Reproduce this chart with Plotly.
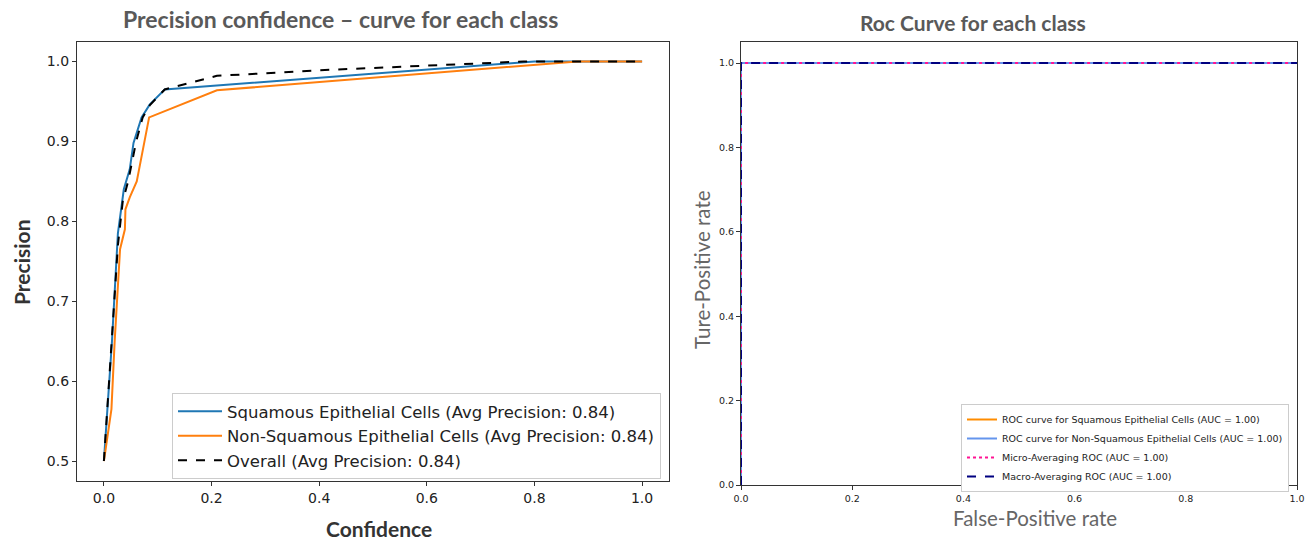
import plotly.graph_objects as go

# ---- Precision-confidence data (left) ----
conf_squamous = [0.0, 0.007, 0.015, 0.026, 0.037, 0.048, 0.055, 0.07, 0.085, 0.113, 0.21, 0.8, 1.0]
prec_squamous = [0.5, 0.57, 0.65, 0.785, 0.84, 0.865, 0.898, 0.93, 0.946, 0.965, 0.97, 1.0, 1.0]

conf_non = [0.0, 0.014, 0.02, 0.03, 0.039, 0.04, 0.048, 0.061, 0.084, 0.21, 0.88, 1.0]
prec_non = [0.5, 0.565, 0.65, 0.765, 0.79, 0.815, 0.83, 0.85, 0.93, 0.964, 1.0, 1.0]

conf_overall = [0.0, 0.007, 0.015, 0.026, 0.035, 0.045, 0.06, 0.072, 0.085, 0.113, 0.21, 0.4, 0.78, 1.0]
prec_overall = [0.5, 0.57, 0.65, 0.77, 0.825, 0.85, 0.9, 0.93, 0.945, 0.965, 0.982, 0.989, 1.0, 1.0]

pr_names = [
    "Squamous Epithelial Cells (Avg Precision: 0.84)",
    "Non-Squamous Epithelial Cells (Avg Precision: 0.84)",
    "Overall (Avg Precision: 0.84)",
]

# ---- ROC data (right) ----
fpr_squamous = [0.0, 0.0, 1.0]
tpr_squamous = [0.0, 1.0, 1.0]
fpr_non = [0.0, 0.0, 1.0]
tpr_non = [0.0, 1.0, 1.0]
fpr_micro = [0.0, 0.0, 1.0]
tpr_micro = [0.0, 1.0, 1.0]
fpr_macro = [0.0, 0.0, 1.0]
tpr_macro = [0.0, 1.0, 1.0]

roc_names = [
    "ROC curve for Squamous Epithelial Cells (AUC = 1.00)",
    "ROC curve for Non-Squamous Epithelial Cells (AUC = 1.00)",
    "Micro-Averaging ROC (AUC = 1.00)",
    "Macro-Averaging ROC (AUC = 1.00)",
]

tick_vals = [0.0, 0.2, 0.4, 0.6, 0.8, 1.0]
tick_text = ["0.0", "0.2", "0.4", "0.6", "0.8", "1.0"]
prec_tick_vals = [0.5, 0.6, 0.7, 0.8, 0.9, 1.0]
prec_tick_text = ["0.5", "0.6", "0.7", "0.8", "0.9", "1.0"]

W, H = 1316, 540
fig = go.Figure()

fig.add_trace(go.Scatter(x=conf_squamous, y=prec_squamous, mode="lines", name=pr_names[0],
                         line=dict(color="#1f77b4", width=2), xaxis="x", yaxis="y", legend="legend"))
fig.add_trace(go.Scatter(x=conf_non, y=prec_non, mode="lines", name=pr_names[1],
                         line=dict(color="#ff7f0e", width=2), xaxis="x", yaxis="y", legend="legend"))
fig.add_trace(go.Scatter(x=conf_overall, y=prec_overall, mode="lines", name=pr_names[2],
                         line=dict(color="black", width=2, dash="dash"), xaxis="x", yaxis="y", legend="legend"))

fig.add_trace(go.Scatter(x=fpr_squamous, y=tpr_squamous, mode="lines", name=roc_names[0],
                         line=dict(color="#ff8c00", width=2), xaxis="x2", yaxis="y2", legend="legend2"))
fig.add_trace(go.Scatter(x=fpr_non, y=tpr_non, mode="lines", name=roc_names[1],
                         line=dict(color="#6495ed", width=2), xaxis="x2", yaxis="y2", legend="legend2"))
fig.add_trace(go.Scatter(x=fpr_micro, y=tpr_micro, mode="lines", name=roc_names[2],
                         line=dict(color="#ff1493", width=2, dash="dot"), xaxis="x2", yaxis="y2", legend="legend2"))
fig.add_trace(go.Scatter(x=fpr_macro, y=tpr_macro, mode="lines", name=roc_names[3],
                         line=dict(color="#000080", width=2, dash="dash"), xaxis="x2", yaxis="y2", legend="legend2"))

def px(x):
    return x / W

def py(y):
    return 1 - y / H

axis_common = dict(showline=True, linecolor="#333", linewidth=1.2, mirror=True, ticks="outside",
                   ticklen=4, tickcolor="#333", showgrid=False, zeroline=False, automargin=False)

fig.update_layout(
    template="none",
    width=W, height=H, autosize=False,
    margin=dict(l=0, r=0, t=0, b=0, pad=0, autoexpand=False),
    paper_bgcolor="white", plot_bgcolor="white",
    xaxis=dict(domain=[px(77), px(669)], range=[-0.05, 1.05], tickvals=tick_vals, ticktext=tick_text,
               anchor="y", tickfont=dict(family="DejaVu Sans", size=14, color="#222"), **axis_common),
    yaxis=dict(domain=[py(481), py(41.5)], range=[0.475, 1.025], tickvals=prec_tick_vals,
               ticktext=prec_tick_text, anchor="x",
               tickfont=dict(family="DejaVu Sans", size=14, color="#222"), **axis_common),
    xaxis2=dict(domain=[px(741), px(1297)], range=[0, 1], tickvals=tick_vals, ticktext=tick_text,
                anchor="y2", tickfont=dict(family="DejaVu Sans", size=9.5, color="#222"), **axis_common),
    yaxis2=dict(domain=[py(485), py(42)], range=[0, 1.05], tickvals=tick_vals, ticktext=tick_text,
                anchor="x2", tickfont=dict(family="DejaVu Sans", size=9.5, color="#222"), **axis_common),
    legend=dict(x=px(172), y=py(393), xanchor="left", yanchor="top", bgcolor="white",
                bordercolor="#ccc", borderwidth=1, font=dict(family="DejaVu Sans", size=16.5, color="#222"),
                tracegroupgap=0, itemwidth=44),
    legend2=dict(x=px(961), y=py(404), xanchor="left", yanchor="top", bgcolor="white",
                 bordercolor="#ccc", borderwidth=1, font=dict(family="DejaVu Sans", size=9.5, color="#222"),
                 tracegroupgap=0),
    annotations=[
        dict(text="<b>Precision confidence – curve for each class</b>", x=px(340), y=py(19),
             xref="paper", yref="paper", showarrow=False, xanchor="center", yanchor="middle",
             font=dict(family="Lato", size=23, color="#595959")),
        dict(text="<b>Roc Curve for each class</b>", x=px(973), y=py(22),
             xref="paper", yref="paper", showarrow=False, xanchor="center", yanchor="middle",
             font=dict(family="Lato", size=21, color="#595959")),
        dict(text="<b>Confidence</b>", x=px(379), y=py(528), xref="paper", yref="paper", showarrow=False,
             xanchor="center", yanchor="middle", font=dict(family="Lato", size=21, color="#333")),
        dict(text="<b>Precision</b>", x=px(21), y=py(262), xref="paper", yref="paper", showarrow=False,
             textangle=-90, xanchor="center", yanchor="middle", font=dict(family="Lato", size=21, color="#333")),
        dict(text="False-Positive rate", x=px(1035), y=py(518), xref="paper", yref="paper", showarrow=False,
             xanchor="center", yanchor="middle", font=dict(family="Lato", size=20.5, color="#666")),
        dict(text="Ture-Positive rate", x=px(702), y=py(270), xref="paper", yref="paper", showarrow=False,
             textangle=-90, xanchor="center", yanchor="middle", font=dict(family="Lato", size=20.5, color="#666")),
    ],
)

fig.write_html("out.html")
